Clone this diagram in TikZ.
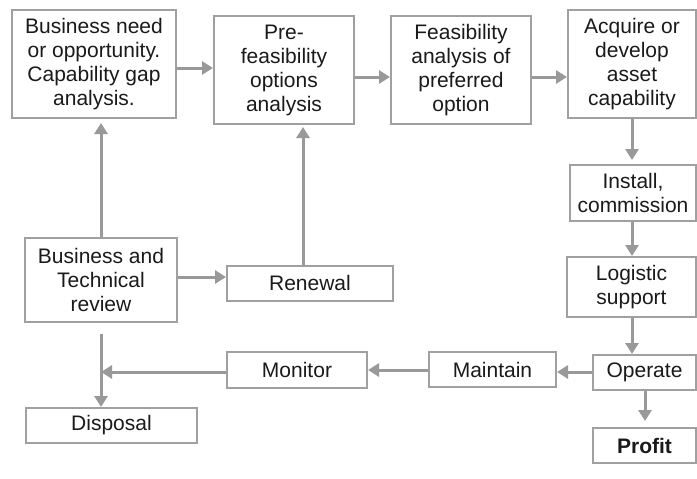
\documentclass[tikz,border=0pt]{standalone}
\usepackage{fontspec}
\setmainfont{Liberation Sans}
\usetikzlibrary{arrows.meta}
\definecolor{boxgray}{HTML}{A0A0A0}
\definecolor{arrgray}{HTML}{999999}
\definecolor{txt}{HTML}{1A1A1A}
\tikzset{
  box/.style={draw=boxgray, line width=2pt, fill=white, inner sep=0pt, align=center,
    text=txt, font=\fontsize{21}{24}\selectfont},
  arr/.style={draw=arrgray, line width=3pt, -{Triangle[length=11pt,width=13pt]}},
  ln/.style={draw=arrgray, line width=3pt}
}
\begin{document}
\begin{tikzpicture}[x=1pt,y=-1pt]
\useasboundingbox (0,0) rectangle (697,479);
\node[box, minimum width=164pt, minimum height=108pt] (b1) at (94,64) {Business need\\or opportunity.\\Capability gap\\analysis.};
\node[box, minimum width=140pt, minimum height=108pt] (b2) at (284,70) {Pre-\\feasibility\\options\\analysis};
\node[box, minimum width=140pt, minimum height=108pt] (b3) at (461,70) {Feasibility\\analysis of\\preferred\\option};
\node[box, minimum width=128pt, minimum height=108pt] (b4) at (632,64) {Acquire or\\develop\\asset\\capability};
\node[box, minimum width=126pt, minimum height=56pt] (inst) at (633,193) {Install,\\commission};
\node[box, minimum width=129pt, minimum height=60pt] (log) at (631.5,287) {Logistic\\support};
\node[box, minimum width=103pt, minimum height=35pt] (op) at (644.5,372.5) {Operate};
\node[box, minimum width=103pt, minimum height=35pt] (pr) at (644.5,445.5) {\bfseries Profit};
\node[box, minimum width=127pt, minimum height=35pt] (mt) at (492.5,369.5) {Maintain};
\node[box, minimum width=140pt, minimum height=36pt] (mon) at (297,370) {Monitor};
\node[box, minimum width=152pt, minimum height=84pt] (rev) at (101,280) {Business and\\Technical\\review};
\node[box, minimum width=166pt, minimum height=35pt] (ren) at (310,283) {Renewal};
\node[box, minimum width=171pt, minimum height=35pt] (dis) at (111.5,425.5) {Disposal};
\coordinate (j) at (101,372);

\draw[arr] (b1.east |- 0,68) -- (b2.west |- 0,68);
\draw[arr] (b2.east |- 0,77) -- (b3.west |- 0,77);
\draw[arr] (b3.east |- 0,77) -- (b4.west |- 0,77);
\draw[arr, shorten >=4pt] (b4.south -| 632,0) -- (inst.north -| 632,0);
\draw[arr] (inst.south -| 632,0) -- (log.north -| 632,0);
\draw[arr] (log.south -| 632,0) -- (op.north -| 632,0);
\draw[arr, shorten >=6pt] (op.south -| 645,0) -- (pr.north -| 645,0);
\draw[arr] (op.west |- 0,372) -- (mt.east |- 0,372);
\draw[arr] (mt.west |- 0,370) -- (mon.east |- 0,370);
\draw[arr] (mon.west |- 0,372) -- (j);
\draw[arr, shorten <=11pt] (rev.south -| j) -- (dis.north -| j);
\draw[arr] (rev.east |- 0,277) -- (ren.west |- 0,277);
\draw[arr, shorten >=2pt] (ren.north -| 303,0) -- (b2.south -| 303,0);
\draw[arr, shorten >=4pt] (rev.north -| 101,0) -- (b1.south -| 101,0);
\end{tikzpicture}
\end{document}
